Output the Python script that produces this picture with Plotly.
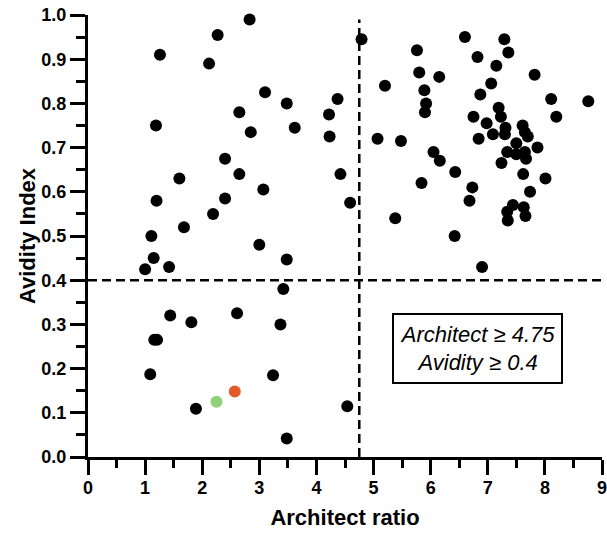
import plotly.graph_objects as go

# Architect ratio vs avidity index, one point per sample
architect = [
    2.83, 2.27, 1.26, 2.12, 3.10, 3.48, 2.65, 1.19, 2.85, 3.62, 2.40, 1.60, 2.65, 3.07,
    1.20, 2.40, 2.19, 1.68, 1.11,
    4.79, 4.37, 4.22, 4.23, 4.42, 4.59,
    5.76, 5.80, 6.15, 5.20, 5.89, 5.92, 5.90, 5.07, 5.48, 6.05, 6.16, 5.84, 5.38,
    6.60, 7.29, 6.82, 7.36, 7.15, 7.82, 7.06, 6.87, 8.11, 8.76, 7.19, 7.23, 8.20, 6.75,
    6.98, 7.31, 7.61, 7.30, 7.09, 6.84, 7.65, 7.70, 7.50, 7.87, 7.34, 7.50, 7.65, 7.67,
    7.24, 7.62, 8.01, 6.43, 6.73, 6.68, 7.74, 7.44, 7.34, 7.63, 7.66, 7.35, 6.42, 6.90,
    1.15, 1.00, 1.42, 3.00, 3.48, 3.42, 1.44, 1.81, 2.61, 3.37, 1.16, 1.21, 1.09, 3.24,
    1.89, 3.48, 4.54,
]
avidity = [
    0.99, 0.955, 0.91, 0.89, 0.825, 0.80, 0.78, 0.75, 0.735, 0.745, 0.675, 0.63, 0.64, 0.605,
    0.58, 0.585, 0.55, 0.52, 0.50,
    0.945, 0.81, 0.775, 0.725, 0.64, 0.575,
    0.92, 0.87, 0.86, 0.84, 0.83, 0.80, 0.78, 0.72, 0.715, 0.69, 0.67, 0.62, 0.54,
    0.95, 0.945, 0.905, 0.915, 0.885, 0.865, 0.845, 0.82, 0.81, 0.805, 0.79, 0.77, 0.77, 0.77,
    0.755, 0.745, 0.75, 0.73, 0.73, 0.72, 0.735, 0.725, 0.71, 0.70, 0.69, 0.685, 0.69, 0.675,
    0.665, 0.64, 0.63, 0.645, 0.61, 0.58, 0.60, 0.57, 0.555, 0.565, 0.545, 0.535, 0.50, 0.43,
    0.45, 0.425, 0.43, 0.48, 0.447, 0.38, 0.32, 0.305, 0.325, 0.30, 0.265, 0.265, 0.187, 0.185,
    0.109, 0.042, 0.115,
]

# Two highlighted samples
green_x, green_y = [2.25], [0.125]
orange_x, orange_y = [2.57], [0.148]

# Cut-offs
architect_cut = 4.75
avidity_cut = 0.4

x_ticks = list(range(0, 10))
y_ticks = [0.0, 0.1, 0.2, 0.3, 0.4, 0.5, 0.6, 0.7, 0.8, 0.9, 1.0]
y_tick_labels = [f"{v:.1f}" for v in y_ticks]

FONT = "Liberation Sans, Arial, sans-serif"

fig = go.Figure()
fig.add_trace(go.Scatter(
    x=architect, y=avidity, mode="markers",
    marker=dict(color="black", size=12, line=dict(width=0)),
    cliponaxis=False, showlegend=False,
))
fig.add_trace(go.Scatter(
    x=green_x, y=green_y, mode="markers",
    marker=dict(color="#8fd27b", size=12, line=dict(width=0)),
    cliponaxis=False, showlegend=False,
))
fig.add_trace(go.Scatter(
    x=orange_x, y=orange_y, mode="markers",
    marker=dict(color="#e35a2a", size=12, line=dict(width=0)),
    cliponaxis=False, showlegend=False,
))

# Threshold lines
fig.add_shape(type="line", xref="x", yref="y", x0=architect_cut, x1=architect_cut, y0=0, y1=0.99,
              line=dict(color="black", width=2.5, dash="9px,5px"), layer="below")
fig.add_shape(type="line", xref="x", yref="y", x0=0, x1=9, y0=avidity_cut, y1=avidity_cut,
              line=dict(color="black", width=2.5, dash="9px,5px"), layer="below")

fig.add_annotation(
    x=6.82, y=0.246, xref="x", yref="y", showarrow=False,
    text=f"Architect ≥ {architect_cut}<br>Avidity ≥ {avidity_cut}",
    font=dict(family=FONT, size=22, color="black", style="italic"),
    bordercolor="black", borderwidth=2, borderpad=0, bgcolor="white",
    width=167, height=67, align="center",
)

axis_common = dict(
    showline=True, linecolor="black", linewidth=3,
    ticks="outside", ticklen=15, tickwidth=3, tickcolor="black",
    showgrid=False, zeroline=False, ticklabeloverflow="allow", automargin=False,
    tickfont=dict(family=FONT, size=18, color="black", weight="bold"),
    title_font=dict(family=FONT, size=22, color="black", weight="bold"),
)

fig.update_xaxes(
    range=[0, 9], tickvals=x_ticks, ticktext=[str(v) for v in x_ticks],
    title_text="Architect ratio", title_standoff=14, ticklabelstandoff=-3,
    minor=dict(dtick=0.5, ticks="outside", ticklen=8, tickwidth=3, tickcolor="black"),
    **axis_common,
)
fig.update_yaxes(
    range=[0, 1], tickvals=y_ticks, ticktext=y_tick_labels,
    title_text="Avidity Index", title_standoff=0,
    minor=dict(dtick=0.05, ticks="outside", ticklen=9, tickwidth=3, tickcolor="black"),
    **axis_common,
)

fig.update_layout(
    width=607, height=536,
    margin=dict(l=88, r=5, t=15, b=79),
    plot_bgcolor="white", paper_bgcolor="white",
    font=dict(family=FONT, color="black"),
)

fig.write_html("out.html")
